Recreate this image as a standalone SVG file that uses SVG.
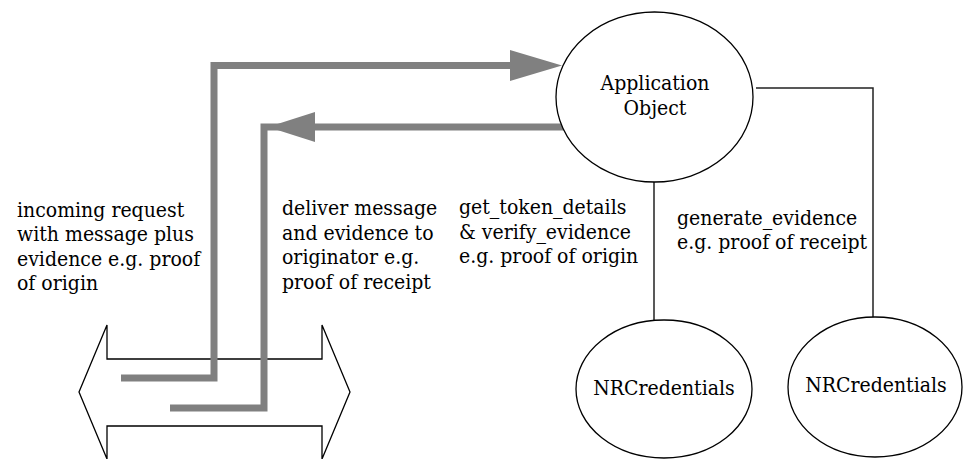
<svg xmlns="http://www.w3.org/2000/svg" width="966" height="459" viewBox="0 0 966 459">
<style>
text{font-family:'DejaVu Serif Condensed','DejaVu Serif',serif;font-stretch:condensed;font-size:21px;fill:#000}
.node{fill:#fff;stroke:#000;stroke-width:1.3}
.thin{fill:none;stroke:#222;stroke-width:1.5}
.flow{fill:none;stroke:#808080;stroke-width:7}
.head{fill:#808080;stroke:none}
</style>
<rect width="966" height="459" fill="#fff"/>
<g id="channel">
<polygon class="node" points="79,392 107,325 107,359 322,359 322,325 350,392 322,459 322,426 107,426 107,459"/>
</g>
<g id="connectors">
<polyline class="thin" points="654,182 654,320"/>
<polyline class="thin" points="756,88 873,88 873,317"/>
<polyline class="flow" points="121,378 214,378 214,65.5 512,65.5"/>
<polygon class="head" points="510,50 562,65.5 510,81"/>
<polyline class="flow" points="170,408 264,408 264,127 566,127"/>
<polygon class="head" points="268,127 315,112 315,142"/>
</g>
<g id="app-object">
<ellipse class="node" cx="654.5" cy="97" rx="98.5" ry="85"/>
<text x="655" y="90" text-anchor="middle">Application</text>
<text x="655" y="114.5" text-anchor="middle">Object</text>
</g>
<g id="nrcred1">
<ellipse class="node" cx="664" cy="389" rx="88" ry="69"/>
<text x="664" y="395" text-anchor="middle">NRCredentials</text>
</g>
<g id="nrcred2">
<ellipse class="node" cx="875" cy="387" rx="87" ry="70"/>
<text x="876" y="392" text-anchor="middle">NRCredentials</text>
</g>
<g id="labels">
<text x="17" y="216.5">incoming request</text>
<text x="17" y="241">with message plus</text>
<text x="17" y="265.5">evidence e.g. proof</text>
<text x="17" y="290">of origin</text>
<text x="282" y="215">deliver message</text>
<text x="282" y="239.5">and evidence to</text>
<text x="282" y="264">originator e.g.</text>
<text x="282" y="288.5">proof of receipt</text>
<text x="459" y="214">get_token_details</text>
<text x="459" y="238.5">&amp; verify_evidence</text>
<text x="459" y="263">e.g. proof of origin</text>
<text x="677" y="225">generate_evidence</text>
<text x="677" y="249">e.g. proof of receipt</text>
</g>
</svg>
